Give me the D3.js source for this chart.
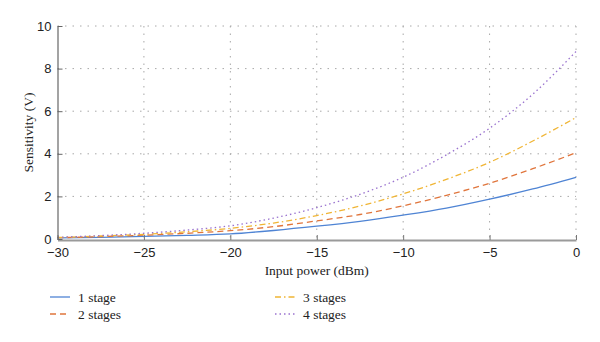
<!DOCTYPE html>
<html>
<head>
<meta charset="utf-8">
<script src="https://cdn.jsdelivr.net/npm/d3@7"></script>
<style>
  body { margin: 0; background: #fff; }
  svg { font-family: "Liberation Serif", "DejaVu Serif", serif; }
</style>
</head>
<body>
<div id="chart"></div>
<script>
const powers = [-30, -27.5, -25, -22.5, -20, -17.5, -15, -12.5, -10, -7.5, -5, -2.5, 0];
const stage1 = [0.05, 0.08, 0.12, 0.17, 0.24, 0.40, 0.60, 0.83, 1.12, 1.45, 1.87, 2.35, 2.90];
const stage2 = [0.06, 0.11, 0.18, 0.27, 0.39, 0.58, 0.85, 1.15, 1.56, 2.05, 2.62, 3.30, 4.05];
const stage3 = [0.07, 0.14, 0.22, 0.34, 0.50, 0.75, 1.10, 1.55, 2.12, 2.80, 3.60, 4.60, 5.70];
const stage4 = [0.08, 0.16, 0.27, 0.42, 0.62, 0.98, 1.47, 2.10, 2.90, 3.95, 5.20, 6.80, 8.80];
const seriesNames = ["1 stage", "2 stages", "3 stages", "4 stages"];
const xTicks = [-30, -25, -20, -15, -10, -5, 0];
const yTicks = [0, 2, 4, 6, 8, 10];

const colors = ["#4f84d4", "#e0753c", "#f0b535", "#9a73cf"];
const dashes = [null, "6,4", "6,3,1.5,3", "1.5,3"];

const width = 600, height = 342;
const margin = {top: 26, left: 57.5, right: 24, bottom: 103};
const iw = width - margin.left - margin.right;
const ih = height - margin.top - margin.bottom;

const svg = d3.select("#chart").append("svg")
    .attr("width", width)
    .attr("height", height);

const g = svg.append("g")
    .attr("transform", `translate(${margin.left},${margin.top})`);

const x = d3.scaleLinear().domain([-30, 0]).range([0, iw]);
const y = d3.scaleLinear().domain([0, 10]).range([ih, 0]);

// grid
g.append("g").selectAll("line.h")
    .data(yTicks.filter(d => d > 0))
    .join("line")
    .attr("x1", 0).attr("x2", iw)
    .attr("y1", d => y(d)).attr("y2", d => y(d))
    .style("stroke", "#a8a8a8")
    .style("stroke-width", 1)
    .style("stroke-dasharray", "1.5,6");

g.append("g").selectAll("line.v")
    .data(xTicks.filter(d => d > -30))
    .join("line")
    .attr("x1", d => x(d)).attr("x2", d => x(d))
    .attr("y1", 0).attr("y2", ih)
    .style("stroke", "#a8a8a8")
    .style("stroke-width", 1)
    .style("stroke-dasharray", "1.5,6");

// series
const all = [stage1, stage2, stage3, stage4];
const line = d3.line()
    .x((d, i) => x(powers[i]))
    .y(d => y(d))
    .curve(d3.curveMonotoneX);

all.forEach((s, i) => {
    g.append("path")
        .datum(s)
        .attr("d", line)
        .style("fill", "none")
        .style("stroke", colors[i])
        .style("stroke-width", 1.3)
        .style("stroke-dasharray", dashes[i]);
});

// axes
const xAxis = d3.axisBottom(x).tickValues(xTicks).tickSizeInner(-5).tickSizeOuter(0)
    .tickFormat(d => d < 0 ? "\u2212" + Math.abs(d) : d);
const gx = g.append("g").attr("transform", `translate(0,${ih + 1})`).call(xAxis);
gx.select(".domain").style("stroke", "#9a9a9a").style("stroke-width", 2.2);
gx.selectAll(".tick line").style("stroke", "#777");
gx.selectAll("text").style("font-size", "13px").style("fill", "#222").attr("y", 8);

const yAxis = d3.axisLeft(y).tickValues(yTicks).tickSizeInner(-5).tickSizeOuter(0);
const gy = g.append("g").call(yAxis);
gy.select(".domain").style("stroke", "#666").style("stroke-width", 1.2);
gy.selectAll(".tick line").style("stroke", "#666");
gy.selectAll("text").style("font-size", "13px").style("fill", "#222").attr("x", -6);

// axis labels
svg.append("text")
    .attr("x", margin.left + iw / 2)
    .attr("y", 275)
    .attr("text-anchor", "middle")
    .style("font-size", "13.5px")
    .style("fill", "#222")
    .text("Input power (dBm)");

svg.append("text")
    .attr("transform", `translate(33,${margin.top + ih / 2}) rotate(-90)`)
    .attr("text-anchor", "middle")
    .style("font-size", "13.5px")
    .style("fill", "#222")
    .text("Sensitivity (V)");

// legend
const legendPos = [[50, 297], [50, 314], [275, 297], [275, 314]];
seriesNames.forEach((name, i) => {
    const [lx, ly] = legendPos[i];
    svg.append("line")
        .attr("x1", lx).attr("x2", lx + 20)
        .attr("y1", ly).attr("y2", ly)
        .style("stroke", colors[i])
        .style("stroke-width", 1.3)
        .style("stroke-dasharray", dashes[i]);
    svg.append("text")
        .attr("x", lx + 28)
        .attr("y", ly + 4.5)
        .style("font-size", "13.5px")
        .style("fill", "#222")
        .text(name);
});
</script>
</body>
</html>
